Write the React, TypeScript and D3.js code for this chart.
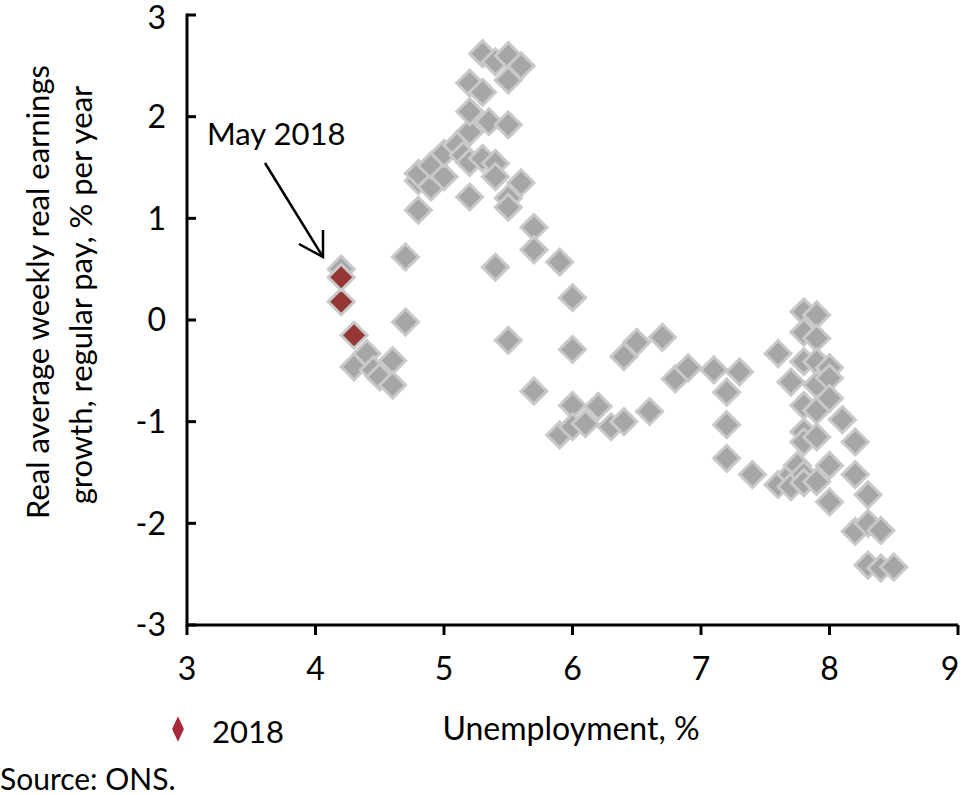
import * as d3 from 'd3';

// Unemployment rate (%) and real weekly earnings growth (% per year), earlier months
const unemployment = [
  4.2, 4.3, 4.4, 4.45, 4.5, 4.6, 4.6, 4.7, 4.7, 4.8, 4.8, 4.8, 4.9, 4.9, 5.0, 5.0,
  5.1, 5.15, 5.2, 5.2, 5.2, 5.2, 5.2, 5.3, 5.3, 5.35, 5.3, 5.4, 5.4, 5.4, 5.4,
  5.5, 5.5, 5.5, 5.5, 5.5, 5.5, 5.6, 5.6, 5.7, 5.7, 5.7, 5.9, 6.0, 6.0, 6.0,
  5.9, 6.0, 6.1, 6.2, 6.3, 6.4, 6.4, 6.5, 6.6, 6.7, 6.8, 6.9, 7.1, 7.3, 7.2,
  7.2, 7.2, 7.4, 7.6, 7.6, 7.7, 7.7, 7.7, 7.75, 7.8, 7.8, 7.8, 7.8, 7.8, 7.8,
  7.8, 7.8, 7.9, 7.9, 7.9, 7.9, 7.9, 7.9, 7.9, 8.0, 8.0, 8.0, 8.0, 8.0, 8.1,
  8.2, 8.2, 8.2, 8.3, 8.3, 8.3, 8.4, 8.4, 8.5,
];
const earnings = [
  0.5, -0.46, -0.33, -0.49, -0.56, -0.4, -0.64, -0.02, 0.62, 1.08, 1.37, 1.44, 1.31, 1.52, 1.41, 1.64,
  1.72, 1.62, 1.55, 1.85, 2.05, 2.33, 1.21, 2.62, 2.24, 1.95, 1.59, 2.54, 1.54, 1.41, 0.52,
  2.6, 2.36, 1.92, 1.2, 1.11, -0.2, 2.5, 1.35, 0.91, 0.69, -0.7, 0.57, 0.22, -0.29, -0.84,
  -1.13, -1.05, -1.02, -0.85, -1.05, -1.0, -0.36, -0.22, -0.9, -0.17, -0.58, -0.47, -0.49, -0.51, -0.71,
  -1.03, -1.36, -1.52, -0.33, -1.62, -0.61, -1.52, -1.64, -1.43, 0.08, -0.12, -0.41, -0.84, -1.1, -1.2,
  -1.52, -1.6, 0.05, -0.18, -0.41, -0.64, -0.89, -1.15, -1.59, -0.47, -0.57, -0.77, -1.43, -1.79, -0.98,
  -1.2, -1.52, -2.08, -1.72, -2.0, -2.41, -2.07, -2.44, -2.43,
];

// 2018
const unemployment2018 = [4.3, 4.2, 4.2];
const earnings2018 = [-0.15, 0.18, 0.42];

const xTicks = [3, 4, 5, 6, 7, 8, 9];
const yTicks = [3, 2, 1, 0, -1, -2, -3];

const W = 964;
const H = 795;
const FONT = 'Lato, "Open Sans", sans-serif';

const x = d3.scaleLinear().domain([3, 9]).range([187, 958]);
const y = d3.scaleLinear().domain([-3, 3]).range([625, 15]);

const diamond = (r: number) => `M0,${-r}L${r},0L0,${r}L${-r},0Z`;

export default function App() {
  const grey = unemployment.map((u, i) => ({ u, e: earnings[i] }));
  const red = unemployment2018.map((u, i) => ({ u, e: earnings2018[i] }));
  const legendSym = d3.symbol().type(d3.symbolDiamond).size(190)();

  return (
    <svg
      width={W}
      height={H}
      style={{ position: 'fixed', left: 0, top: 0, background: '#fff' }}
      fontFamily={FONT}
    >
      {/* points */}
      {grey.map((d, i) => (
        <path
          key={'g' + i}
          d={diamond(13)}
          transform={`translate(${x(d.u)},${y(d.e)})`}
          fill="#a6a6a6"
          stroke="#c9c9c9"
          strokeWidth={3}
        />
      ))}
      {red.map((d, i) => (
        <path
          key={'r' + i}
          d={diamond(13)}
          transform={`translate(${x(d.u)},${y(d.e)})`}
          fill="#953735"
          stroke="#c9c9c9"
          strokeWidth={3}
        />
      ))}

      {/* axes */}
      <line x1={x(3)} x2={x(3)} y1={y(3) - 1.5} y2={y(-3) + 1.5} stroke="#000" strokeWidth={3} />
      <line x1={x(3)} x2={x(9)} y1={y(-3)} y2={y(-3)} stroke="#000" strokeWidth={3} />
      {yTicks.map((t) => (
        <g key={'yt' + t}>
          <line x1={x(3)} x2={x(3) + 9} y1={y(t)} y2={y(t)} stroke="#000" strokeWidth={3} />
          <text x={166} y={Math.max(y(t), 18)} dy="0.35em" textAnchor="end" fontSize={32}>
            {t}
          </text>
        </g>
      ))}
      {xTicks.map((t) => (
        <g key={'xt' + t}>
          <line x1={x(t)} x2={x(t)} y1={y(-3)} y2={y(-3) + 10} stroke="#000" strokeWidth={3} />
          <text x={Math.min(x(t), 950)} y={680} textAnchor="middle" fontSize={32}>
            {t}
          </text>
        </g>
      ))}

      {/* axis titles */}
      <text
        transform={`translate(49,292) rotate(-90)`}
        textAnchor="middle"
        fontSize={31}
      >
        Real average weekly real earnings
      </text>
      <text
        transform={`translate(92,295) rotate(-90)`}
        textAnchor="middle"
        fontSize={31}
      >
        growth, regular pay, % per year
      </text>
      <text x={571} y={740} textAnchor="middle" fontSize={32}>
        Unemployment, %
      </text>

      {/* annotation */}
      <text x={207} y={145} fontSize={31}>
        May 2018
      </text>
      <line x1={265} y1={163} x2={323} y2={257} stroke="#000" strokeWidth={2.5} />
      <polyline
        points="299,244 323,257 323,230"
        fill="none"
        stroke="#000"
        strokeWidth={2.5}
      />

      {/* legend */}
      <path d={legendSym!} transform="translate(178,729) scale(0.8,1)" fill="#a8283c" />
      <text x={212} y={743} fontSize={31}>
        2018
      </text>

      <text x={0} y={790} fontSize={30}>
        Source: ONS.
      </text>
    </svg>
  );
}
